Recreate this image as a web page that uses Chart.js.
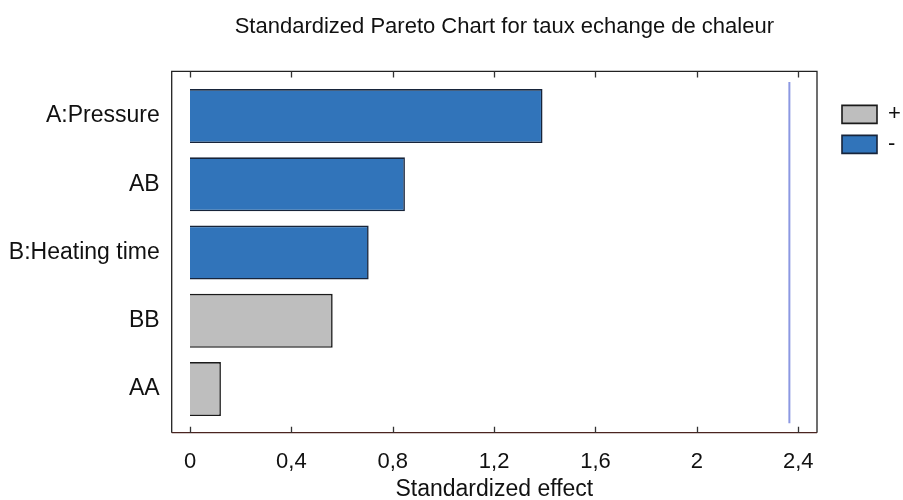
<!DOCTYPE html>
<html>
<head>
<meta charset="utf-8">
<script src="https://cdn.jsdelivr.net/npm/chart.js@4.4.1/dist/chart.umd.min.js"></script>
<style>
  html, body { margin: 0; padding: 0; background: #fff; }
  #wrap { width: 903px; height: 500px; }
</style>
</head>
<body>
<div id="wrap"><canvas id="chart" width="903" height="500"></canvas></div>
<script>
// effects, top to bottom
const effects = ['A:Pressure', 'AB', 'B:Heating time', 'BB', 'AA'];
const effectValues = [1.391, 0.848, 0.705, 0.563, 0.122];
const effectSigns = ['-', '-', '-', '+', '+'];
const criticalValue = 2.365;
const xTicks = [0, 0.4, 0.8, 1.2, 1.6, 2, 2.4];

const FONT = 'Liberation Sans, Arial, sans-serif';

function pointsFor(sign) {
    const pts = [];
    effectValues.forEach((v, i) => {
        if (effectSigns[i] === sign) pts.push({ x: v, y: i });
    });
    return pts;
}

// frame + inward tick marks on top and bottom
const framePlugin = {
    id: 'frame',
    afterLayout(chart) {
        // title sits a little right of the plot centre in the original
        chart.titleBlock.left += 20;
    },
    afterDraw(chart) {
        const { ctx, chartArea: a, scales } = chart;
        ctx.save();
        ctx.lineWidth = 1.3;
        ctx.strokeStyle = '#222';
        ctx.beginPath();
        ctx.moveTo(a.left, a.bottom);
        ctx.lineTo(a.left, a.top);
        ctx.lineTo(a.right, a.top);
        ctx.lineTo(a.right, a.bottom);
        ctx.stroke();
        ctx.strokeStyle = '#4a2420';
        ctx.beginPath();
        ctx.moveTo(a.left, a.bottom);
        ctx.lineTo(a.right, a.bottom);
        ctx.stroke();
        ctx.strokeStyle = '#333';
        ctx.beginPath();
        for (const t of xTicks) {
            const px = Math.round(scales.x.getPixelForValue(t)) + 0.5;
            ctx.moveTo(px, a.top);
            ctx.lineTo(px, a.top + 6);
            ctx.moveTo(px, a.bottom);
            ctx.lineTo(px, a.bottom - 6);
        }
        ctx.stroke();
        ctx.restore();
    }
};

new Chart(document.getElementById('chart'), {
    type: 'bar',
    data: {
        datasets: [{
            label: '+',
            data: pointsFor('+'),
            backgroundColor: '#bebebe',
            borderColor: '#1a1a1a',
            borderWidth: 1.6,
            grouped: false
        }, {
            label: '-',
            data: pointsFor('-'),
            backgroundColor: '#3174ba',
            borderColor: '#17243a',
            borderWidth: 1.6,
            grouped: false
        }, {
            type: 'line',
            label: 'critical',
            data: [{ x: criticalValue, y: -0.5 }, { x: criticalValue, y: 4.5 }],
            borderColor: '#8c98e2',
            borderWidth: 2,
            pointRadius: 0,
            fill: false
        }]
    },
    options: {
        indexAxis: 'y',
        responsive: false,
        animation: false,
        categoryPercentage: 1,
        barPercentage: 0.79,
        layout: { padding: 0 },
        plugins: {
            title: {
                display: true,
                fullSize: false,
                text: 'Standardized Pareto Chart for taux echange de chaleur',
                color: '#111',
                font: { family: FONT, size: 22, weight: 'normal' },
                padding: { top: 14, bottom: 31 }
            },
            legend: {
                position: 'right',
                align: 'start',
                maxWidth: 69,
                title: {
                    display: true,
                    text: ' ',
                    font: { family: FONT, size: 22 },
                    padding: { top: 69, bottom: 0 }
                },
                labels: {
                    filter: item => item.text !== 'critical',
                    boxWidth: 35,
                    boxHeight: 18,
                    padding: 8,
                    color: '#111',
                    font: { family: FONT, size: 22 }
                }
            },
            tooltip: { enabled: false }
        },
        scales: {
            x: {
                type: 'linear',
                min: -0.0722,
                max: 2.474,
                afterFit: s => { s.height = 67.3; },
                grid: { display: false, drawTicks: false },
                border: { display: false },
                ticks: {
                    stepSize: 0.4,
                    includeBounds: false,
                    padding: 16,
                    color: '#111',
                    font: { family: FONT, size: 22 },
                    callback: v => String(Math.round(v * 10) / 10).replace('.', ',')
                },
                title: {
                    display: true,
                    text: 'Standardized effect',
                    color: '#111',
                    font: { family: FONT, size: 23 },
                    padding: { top: 0, bottom: -3 }
                }
            },
            y: {
                type: 'linear',
                reverse: true,
                offset: false,
                min: -0.654,
                max: 4.64,
                afterFit: s => { s.width = 171.7; },
                grid: { display: false, drawTicks: false },
                border: { display: false },
                ticks: {
                    stepSize: 1,
                    includeBounds: false,
                    padding: 12,
                    color: '#111',
                    font: { family: FONT, size: 23 },
                    callback: v => effects[v] !== undefined ? effects[v] : ''
                }
            },
            y2: {
                type: 'linear',
                position: 'right',
                afterFit: s => { s.width = 17; },
                grid: { display: false, drawTicks: false },
                border: { display: false },
                ticks: { display: false }
            }
        }
    },
    plugins: [framePlugin]
});
</script>
</body>
</html>
